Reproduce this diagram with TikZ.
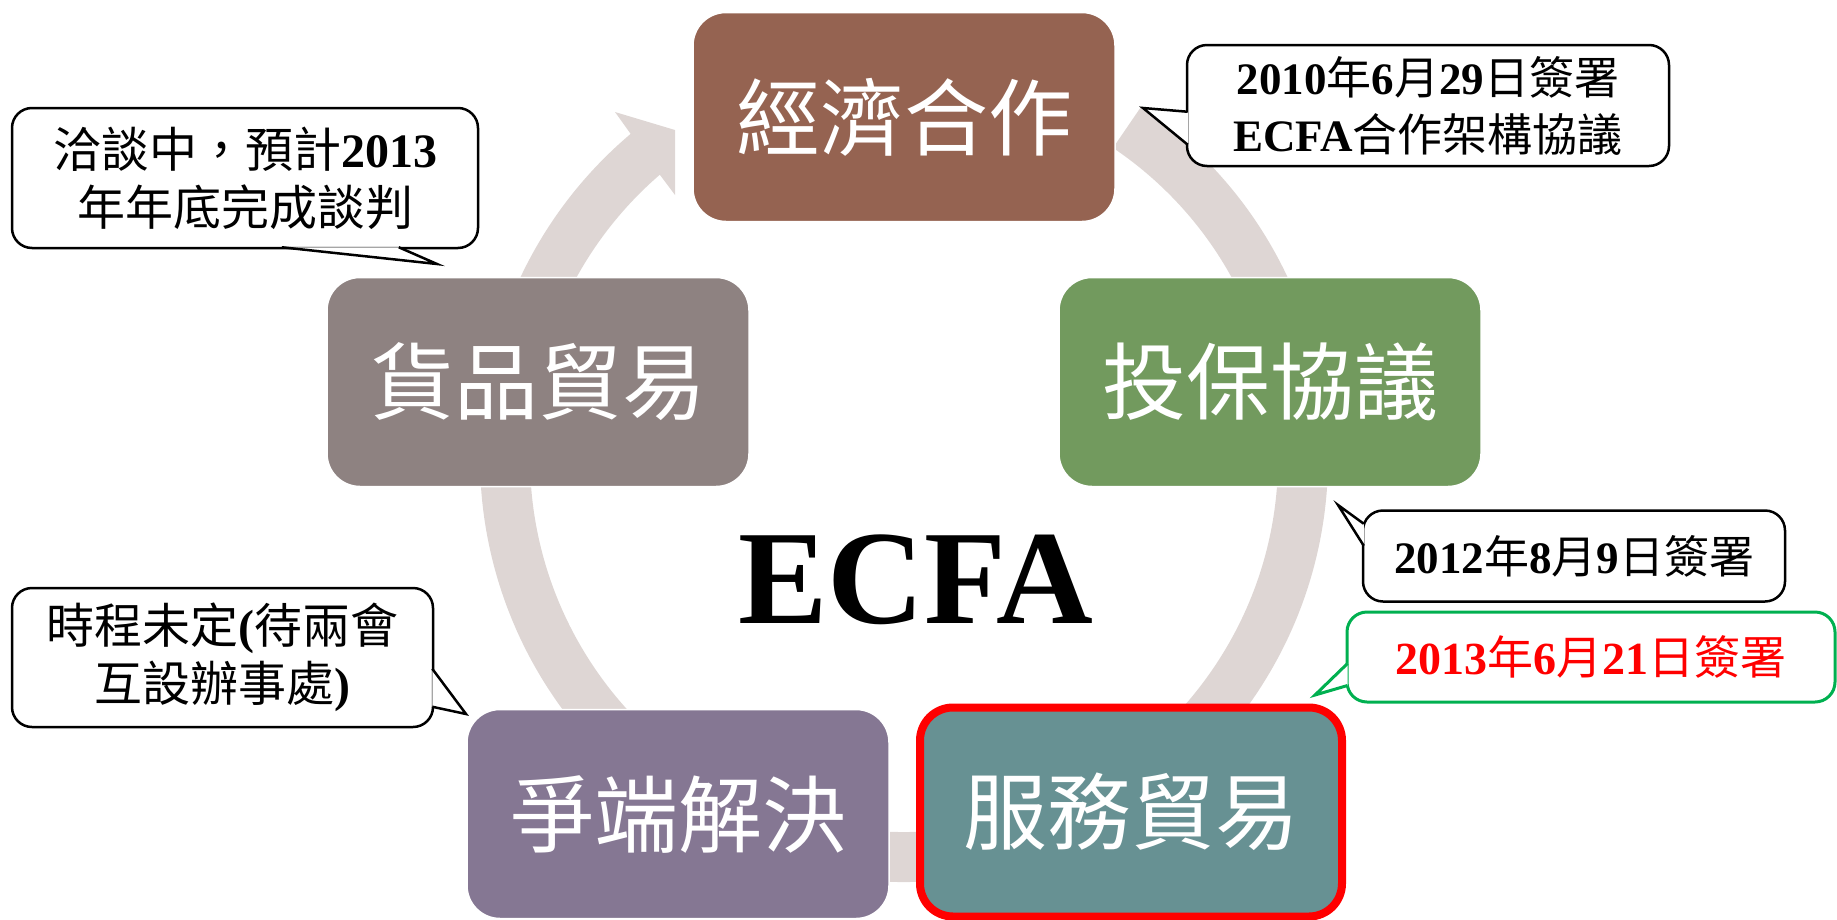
\documentclass[tikz,border=0pt]{standalone}
\usepackage{fontspec}
\setmainfont{Noto Sans CJK TC}
\newfontfamily\tnr{Liberation Serif}
\usepackage{xcolor}
\usetikzlibrary{calc}
\definecolor{RingGray}{RGB}{222,214,212}
\definecolor{EconBrown}{RGB}{149,99,81}
\definecolor{InvestGreen}{RGB}{114,154,94}
\definecolor{ServiceTeal}{RGB}{103,145,147}
\definecolor{DisputePurple}{RGB}{133,119,147}
\definecolor{GoodsGray}{RGB}{142,130,129}
\definecolor{NoteGreen}{RGB}{0,176,80}
\tikzset{
    stagebox/.style={
        rounded corners=33pt, draw=white, line width=1.5pt, text=white,
        minimum width=422pt, minimum height=209pt, inner sep=0pt,
        font=\fontsize{84}{90}\selectfont
    },
    notebox/.style={
        rounded corners=20pt, draw=black, line width=2.5pt, fill=white,
        align=center, inner sep=0pt, font=\fontsize{45}{57}\selectfont
    },
    notetail/.style={
        fill=white, draw=black, line width=2.5pt, line join=miter
    },
    cyclering/.style={
        draw=RingGray, line width=50pt
    }
}
\newcommand{\nb}[1]{{\tnr\bfseries #1}}
\newcommand{\drawtail}[4][black]{
    \filldraw[notetail, draw=#1] (#2) -- (#4) -- (#3);
}

\begin{document}
\begin{tikzpicture}[x=1pt, y=-1pt]
    \useasboundingbox (0,0) rectangle (1837,919);

    % --- RING ---
    \coordinate (hub) at (904,458);
    \draw[cyclering] (hub) ++(-56:399) arc[start angle=-56, end angle=231, radius=399];
    \fill[RingGray] (630,133) -- (615,112) -- (675,130) -- (675,195) -- (660,175) -- cycle;

    % --- STAGES ---
    \node[stagebox, fill=EconBrown] (econ) at (904,117) {經濟合作};
    \node[stagebox, fill=InvestGreen] (invest) at (1270,382) {投保協議};
    \node[stagebox, fill=ServiceTeal, draw=red, line width=8pt] (service) at (1131,812) {服務貿易};
    \node[stagebox, fill=DisputePurple] (dispute) at (678,814) {爭端解決};
    \node[stagebox, fill=GoodsGray] (goods) at (538,382) {貨品貿易};

    \node[font=\tnr\bfseries\fontsize{134}{140}\selectfont] (ecfa) at (916,580) {ECFA};

    % --- NOTES ---
    \node[notebox, font=\fontsize{48}{58}\selectfont, minimum width=466pt, minimum height=140pt] (talks) at (245,178)
        {洽談中，預計\nb{2013}\\年年底完成談判};
    \coordinate (talkstip) at (437,264);
    \drawtail{$(talks.south west)+(271,-2)$}{$(talks.south west)+(388,-2)$}{talkstip}

    \node[notebox, minimum width=482pt, minimum height=121pt] (sign2010) at (1428,105.5)
        {\nb{2010}年\nb{6}月\nb{29}日簽署\\\nb{ECFA}合作架構協議};
    \coordinate (sign2010tip) at (1143,108);
    \drawtail{$(sign2010.north west)+(2,68)$}{$(sign2010.north west)+(2,101)$}{sign2010tip}

    \node[notebox, minimum width=422pt, minimum height=91pt] (sign2012) at (1574,556)
        {\nb{2012}年\nb{8}月\nb{9}日簽署};
    \coordinate (sign2012tip) at (1338,505);
    \drawtail{$(sign2012.north west)+(2,14.5)$}{$(sign2012.north west)+(2,36.5)$}{sign2012tip}

    \node[notebox, draw=NoteGreen, line width=3pt, text=red, font=\fontsize{46}{57}\selectfont, minimum width=488pt, minimum height=90pt] (sign2013) at (1591,657)
        {\nb{2013}年\nb{6}月\nb{21}日簽署};
    \coordinate (sign2013tip) at (1315,695);
    \drawtail[NoteGreen, line width=3pt]{$(sign2013.north west)+(2,53)$}{$(sign2013.north west)+(2,75)$}{sign2013tip}

    \node[notebox, font=\fontsize{48}{58}\selectfont, minimum width=421pt, minimum height=139pt] (pending) at (222.5,657.5)
        {時程未定\nb{(}待兩會\\互設辦事處\nb{)}};
    \coordinate (pendingtip) at (466,714);
    \drawtail{$(pending.north east)+(-2,82)$}{$(pending.north east)+(-2,120)$}{pendingtip}

\end{tikzpicture}
\end{document}
